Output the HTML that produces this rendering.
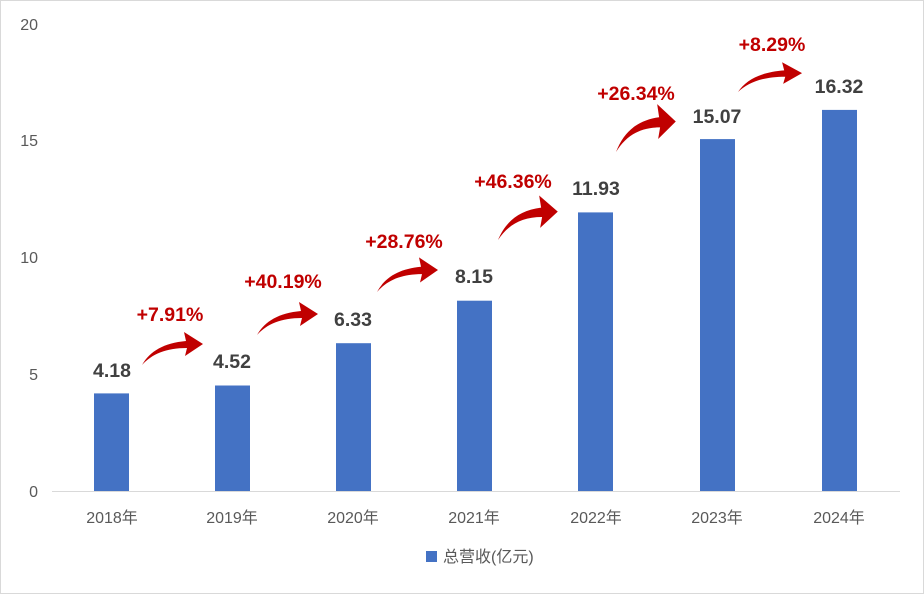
<!DOCTYPE html>
<html><head><meta charset="utf-8"><style>
body{margin:0;background:#fff}
svg{display:block}
text{font-family:"Liberation Sans","Noto Sans CJK SC",sans-serif}
</style></head><body>
<svg width="924" height="594" viewBox="0 0 924 594">
<rect x="0.5" y="0.5" width="923" height="593" fill="#fff" stroke="#d9d9d9"/>
<defs>
<path id="arr" d="M0,0 C8,-14 22,-22 44,-24 L42,-33 L61,-21 L43,-9 L45,-17 C24,-17 10,-11 0,0 Z" fill="#c00000"/>
</defs>
<g fill="#595959" font-size="16" text-anchor="end">
<text x="38" y="497">0</text>
<text x="38" y="380">5</text>
<text x="38" y="263">10</text>
<text x="38" y="146">15</text>
<text x="38" y="30">20</text>
</g>
<line x1="52" y1="491.5" x2="900" y2="491.5" stroke="#d9d9d9"/>
<g fill="#4472c4">
<rect x="94" y="393.4" width="35" height="97.6"/>
<rect x="215" y="385.5" width="35" height="105.5"/>
<rect x="336" y="343.2" width="35" height="147.8"/>
<rect x="457" y="300.7" width="35" height="190.3"/>
<rect x="578" y="212.4" width="35" height="278.6"/>
<rect x="700" y="139.1" width="35" height="351.9"/>
<rect x="822" y="109.9" width="35" height="381.1"/>
</g>
<g fill="#595959" font-size="16" text-anchor="middle">
<text x="112" y="523">2018年</text><text x="232" y="523">2019年</text><text x="353" y="523">2020年</text>
<text x="474" y="523">2021年</text><text x="596" y="523">2022年</text><text x="717" y="523">2023年</text><text x="839" y="523">2024年</text>
</g>
<g fill="#404040" font-size="19.5" font-weight="bold" text-anchor="middle">
<text x="112" y="377">4.18</text><text x="232" y="368">4.52</text><text x="353" y="326">6.33</text>
<text x="474" y="283">8.15</text><text x="596" y="195">11.93</text><text x="717" y="123">15.07</text><text x="839" y="93">16.32</text>
</g>
<g fill="#c00000" font-size="19.5" font-weight="bold" text-anchor="middle">
<text x="170" y="321">+7.91%</text><text x="283" y="288">+40.19%</text><text x="404" y="248">+28.76%</text>
<text x="513" y="188">+46.36%</text><text x="636" y="100">+26.34%</text><text x="772" y="51">+8.29%</text>
</g>
<use href="#arr" transform="translate(142,365)"/>
<use href="#arr" transform="translate(257,335)"/>
<use href="#arr" transform="translate(377,292) scale(1,1.05)"/>
<use href="#arr" transform="translate(498,240) scale(0.98,1.35)"/>
<use href="#arr" transform="translate(616,152) scale(0.98,1.45)"/>
<use href="#arr" transform="translate(738,92) scale(1.05,0.9)"/>
<rect x="426" y="551" width="11" height="11" fill="#4472c4"/>
<text x="443" y="562" fill="#595959" font-size="16">总营收(亿元)</text>
</svg>
</body></html>
